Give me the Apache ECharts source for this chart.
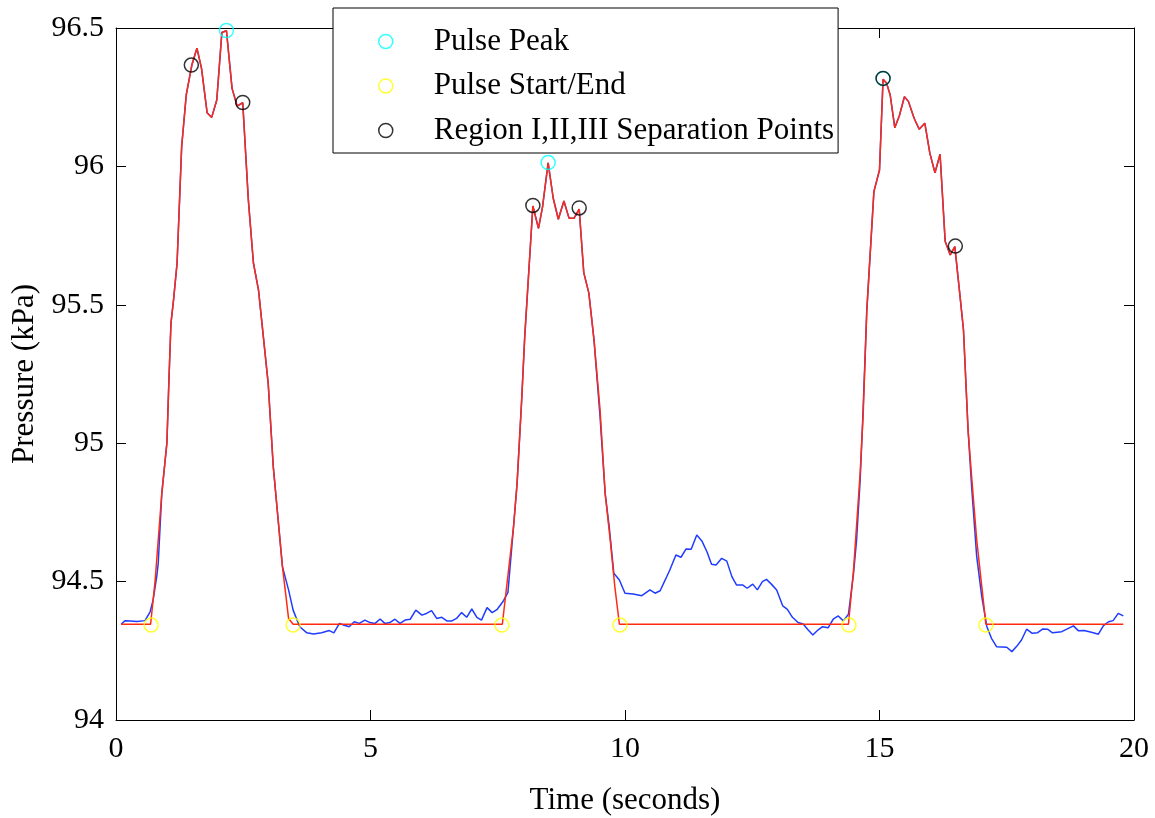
<!DOCTYPE html>
<html>
<head>
<meta charset="utf-8">
<script src="https://cdn.jsdelivr.net/npm/echarts@6/dist/echarts.min.js"></script>
<style>html,body{margin:0;padding:0;background:#fff}#chart{width:1155px;height:818px}</style>
</head>
<body>
<div id="chart"></div>
<script>
// Raw pressure signal (blue): [time s, pressure kPa]
const rawSignal = [[0.10,94.346],[0.18,94.359],[0.28,94.358],[0.41,94.356],[0.57,94.359],[0.67,94.391],[0.73,94.434],[0.80,94.518],[0.83,94.567],[0.90,94.819],[1.00,95.001],[1.04,95.228],[1.08,95.434],[1.13,95.517],[1.20,95.651],[1.29,96.071],[1.38,96.258],[1.49,96.366],[1.59,96.427],[1.68,96.354],[1.79,96.194],[1.88,96.177],[1.98,96.240],[2.08,96.484],[2.17,96.490],[2.28,96.282],[2.38,96.218],[2.49,96.230],[2.60,95.879],[2.70,95.651],[2.80,95.553],[2.99,95.216],[3.09,94.915],[3.27,94.554],[3.39,94.470],[3.48,94.397],[3.61,94.337],[3.75,94.315],[3.88,94.311],[4.04,94.315],[4.19,94.323],[4.28,94.315],[4.39,94.349],[4.47,94.343],[4.58,94.337],[4.68,94.355],[4.78,94.349],[4.89,94.361],[4.99,94.352],[5.09,94.349],[5.19,94.365],[5.28,94.349],[5.38,94.352],[5.48,94.364],[5.58,94.349],[5.68,94.361],[5.78,94.364],[5.89,94.397],[6.01,94.379],[6.10,94.385],[6.20,94.395],[6.30,94.367],[6.40,94.371],[6.50,94.358],[6.60,94.358],[6.69,94.367],[6.79,94.388],[6.89,94.371],[6.99,94.401],[7.09,94.371],[7.18,94.361],[7.29,94.406],[7.39,94.388],[7.49,94.400],[7.60,94.427],[7.70,94.461],[7.81,94.698],[7.88,94.855],[7.97,95.156],[8.03,95.384],[8.19,95.857],[8.30,95.776],[8.38,95.854],[8.49,96.013],[8.59,95.885],[8.69,95.809],[8.80,95.875],[8.90,95.813],[9.00,95.813],[9.10,95.846],[9.19,95.616],[9.29,95.542],[9.39,95.375],[9.51,95.096],[9.54,95.012],[9.61,94.819],[9.69,94.698],[9.78,94.530],[9.89,94.506],[10.00,94.458],[10.16,94.455],[10.33,94.449],[10.49,94.470],[10.59,94.458],[10.69,94.467],[10.79,94.506],[10.88,94.542],[11.00,94.596],[11.10,94.588],[11.20,94.618],[11.30,94.617],[11.41,94.668],[11.51,94.647],[11.61,94.608],[11.70,94.563],[11.79,94.560],[11.90,94.584],[12.00,94.574],[12.10,94.518],[12.19,94.488],[12.31,94.488],[12.40,94.476],[12.51,94.491],[12.60,94.470],[12.70,94.500],[12.78,94.508],[12.88,94.490],[12.98,94.470],[13.10,94.412],[13.19,94.400],[13.29,94.371],[13.40,94.352],[13.50,94.347],[13.60,94.325],[13.69,94.307],[13.79,94.325],[13.88,94.337],[13.99,94.333],[14.09,94.364],[14.19,94.376],[14.29,94.358],[14.39,94.382],[14.49,94.530],[14.55,94.650],[14.62,94.867],[14.67,95.084],[14.75,95.478],[14.89,95.909],[15.00,95.987],[15.07,96.315],[15.14,96.300],[15.21,96.258],[15.30,96.140],[15.39,96.183],[15.49,96.252],[15.57,96.234],[15.68,96.174],[15.78,96.134],[15.89,96.156],[15.99,96.047],[16.09,95.977],[16.19,96.044],[16.29,95.730],[16.39,95.680],[16.48,95.710],[16.58,95.535],[16.65,95.409],[16.74,95.048],[16.81,94.843],[16.91,94.590],[17.01,94.445],[17.11,94.337],[17.20,94.295],[17.30,94.265],[17.50,94.263],[17.60,94.247],[17.70,94.267],[17.79,94.289],[17.89,94.328],[18.00,94.313],[18.10,94.315],[18.21,94.329],[18.30,94.328],[18.40,94.315],[18.58,94.319],[18.69,94.329],[18.81,94.340],[18.91,94.322],[19.02,94.323],[19.20,94.315],[19.30,94.310],[19.40,94.341],[19.50,94.355],[19.59,94.359],[19.69,94.385],[19.79,94.376]];

// Processed pulse signal (red): [time s, pressure kPa]
const pulseSignal = [[0.10,94.346],[0.68,94.346],[0.77,94.506],[0.90,94.819],[1.00,95.001],[1.04,95.228],[1.08,95.434],[1.13,95.517],[1.20,95.651],[1.29,96.071],[1.38,96.258],[1.49,96.366],[1.59,96.427],[1.68,96.354],[1.79,96.194],[1.88,96.177],[1.98,96.240],[2.08,96.484],[2.17,96.490],[2.28,96.282],[2.38,96.218],[2.49,96.230],[2.60,95.879],[2.70,95.651],[2.80,95.553],[2.99,95.216],[3.09,94.915],[3.27,94.554],[3.39,94.367],[3.48,94.346],[7.59,94.346],[7.81,94.698],[7.88,94.855],[7.97,95.156],[8.03,95.384],[8.19,95.857],[8.30,95.776],[8.38,95.854],[8.49,96.013],[8.59,95.885],[8.69,95.809],[8.80,95.875],[8.90,95.813],[9.00,95.813],[9.10,95.846],[9.19,95.616],[9.29,95.542],[9.39,95.375],[9.51,95.120],[9.61,94.819],[9.71,94.650],[9.80,94.482],[9.89,94.346],[14.39,94.346],[14.49,94.542],[14.62,94.892],[14.68,95.108],[14.75,95.478],[14.89,95.909],[15.00,95.987],[15.07,96.315],[15.14,96.300],[15.21,96.258],[15.30,96.140],[15.39,96.183],[15.49,96.252],[15.57,96.234],[15.68,96.174],[15.78,96.134],[15.89,96.156],[15.99,96.047],[16.09,95.977],[16.19,96.044],[16.29,95.730],[16.39,95.680],[16.48,95.710],[16.58,95.535],[16.65,95.409],[16.74,95.048],[16.81,94.879],[16.91,94.650],[17.01,94.482],[17.09,94.346],[19.79,94.346]];

const pulsePeaks = [[2.17,96.491],[8.49,96.014],[15.07,96.318]];
const pulseStartEnd = [[0.69,94.343],[3.48,94.343],[7.58,94.343],[9.90,94.343],[14.40,94.343],[17.09,94.343]];
const separationPoints = [[1.48,96.366],[2.49,96.231],[8.19,95.859],[9.10,95.850],[15.07,96.318],[16.49,95.712]];

const xTicks = {min: 0, max: 20, interval: 5};
const yTicks = {min: 94, max: 96.5, interval: 0.5};
const legendNames = ['Pulse Peak', 'Pulse Start/End', 'Region I,II,III Separation Points'];

const FONT = 'Liberation Serif';
const axisLineStyle = {show: true, onZero: false, lineStyle: {color: '#000', width: 1}};
const tickStyle = {show: true, inside: true, length: 10, lineStyle: {color: '#000', width: 1}};

function markerStyle(c) {
  return {color: 'rgba(0,0,0,0)', borderColor: c, borderWidth: 1.5};
}

const chart = echarts.init(document.getElementById('chart'), null, {renderer: 'canvas'});
chart.setOption({
  animation: false,
  backgroundColor: '#fff',
  textStyle: {fontFamily: FONT},
  grid: {left: 116, right: 21, top: 28, bottom: 98, containLabel: false, outerBoundsMode: 'none'},
  legend: {
    orient: 'vertical', left: 333, top: 8,
    padding: [18, 4, 7, 45], itemGap: 13.5,
    itemWidth: 14, itemHeight: 14,
    backgroundColor: '#fff', borderColor: '#000', borderWidth: 1,
    selectedMode: false,
    textStyle: {fontSize: 31, color: '#000', fontFamily: FONT, lineHeight: 31, padding: [0, 0, 0, 36]},
    data: [
      {name: legendNames[0], icon: 'circle', itemStyle: markerStyle('#00ffff')},
      {name: legendNames[1], icon: 'circle', itemStyle: markerStyle('#ffff00')},
      {name: legendNames[2], icon: 'circle', itemStyle: markerStyle('#000000')}
    ]
  },
  xAxis: [
    {type: 'value', min: xTicks.min, max: xTicks.max, interval: xTicks.interval,
     name: 'Time (seconds)', nameLocation: 'middle', nameGap: 65,
     nameTextStyle: {fontSize: 31, color: '#000', fontFamily: FONT},
     axisLine: axisLineStyle, axisTick: tickStyle,
     axisLabel: {fontSize: 30, color: '#000', margin: 14, fontFamily: FONT},
     splitLine: {show: false}},
    {type: 'value', position: 'top', min: xTicks.min, max: xTicks.max, interval: xTicks.interval,
     axisLine: axisLineStyle, axisTick: tickStyle, axisLabel: {show: false}, splitLine: {show: false}}
  ],
  yAxis: [
    {type: 'value', min: yTicks.min, max: yTicks.max, interval: yTicks.interval,
     name: 'Pressure (kPa)', nameLocation: 'middle', nameGap: 69,
     nameTextStyle: {fontSize: 31, color: '#000', fontFamily: FONT},
     axisLine: axisLineStyle, axisTick: tickStyle,
     axisLabel: {fontSize: 30, color: '#000', margin: 12, fontFamily: FONT},
     splitLine: {show: false}},
    {type: 'value', position: 'right', min: yTicks.min, max: yTicks.max, interval: yTicks.interval,
     axisLine: axisLineStyle, axisTick: tickStyle, axisLabel: {show: false}, splitLine: {show: false}}
  ],
  series: [
    {name: 'Raw', type: 'line', data: rawSignal, symbol: 'none', silent: true,
     lineStyle: {color: '#1f3cff', width: 1.5}, z: 2},
    {name: 'Pulse', type: 'line', data: pulseSignal, symbol: 'none', silent: true,
     lineStyle: {color: '#ff2a10', width: 1.5}, z: 3},
    {name: legendNames[0], type: 'scatter', data: pulsePeaks, symbol: 'circle', symbolSize: 14,
     itemStyle: markerStyle('#00ffff'), z: 4},
    {name: legendNames[1], type: 'scatter', data: pulseStartEnd, symbol: 'circle', symbolSize: 14,
     itemStyle: markerStyle('#ffff00'), z: 4},
    {name: legendNames[2], type: 'scatter', data: separationPoints, symbol: 'circle', symbolSize: 14,
     itemStyle: markerStyle('#000000'), z: 5}
  ]
});
</script>
</body>
</html>
